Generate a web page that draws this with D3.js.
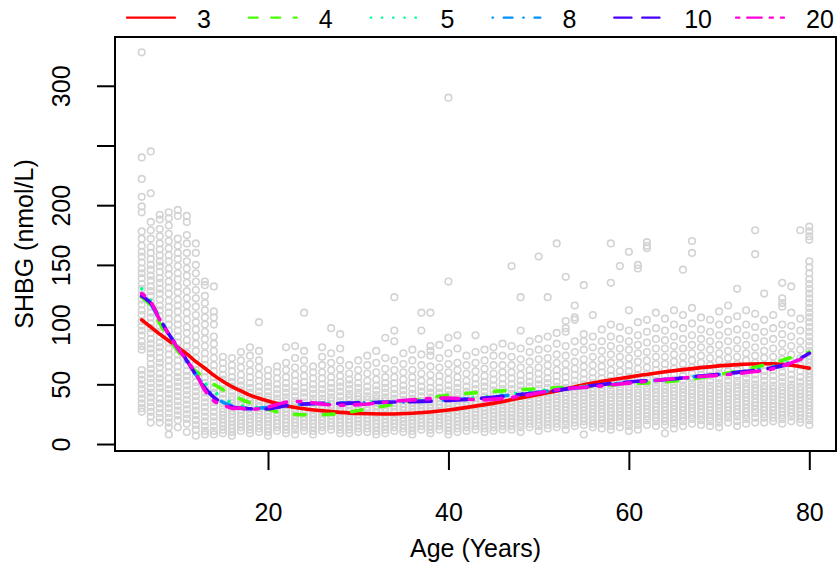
<!DOCTYPE html>
<html>
<head>
<meta charset="utf-8">
<script src="https://cdn.jsdelivr.net/npm/d3@7"></script>
<style>
  html, body { margin: 0; padding: 0; background: #fff; }
  svg { display: block; font-family: "Liberation Sans", Arial, Helvetica, sans-serif; }
</style>
</head>
<body>
<svg id="chart" width="838" height="564"></svg>
<script>
/* SHBG vs age, smoothing spline fits with different df */

// observed SHBG (nmol/L) per integer age
var ages = d3.range(6, 81);
var shbg = [
  [328,240,222,207,199,194,178,172,166,161,157,152,147,143,139,134,130,125,121,117,112,108,103,99,95,91,86,82,79,62,58,54,50,46,42,38,34,30,27],
  [245,210,186,179,172,165,160,155,150,146,141,137,132,128,124,119,115,110,106,101,97,93,88,84,80,76,72,67,63,59,55,51,47,43,39,35,31,27,23,18],
  [192,188,180,174,168,163,158,153,149,144,139,135,130,126,121,116,112,107,103,98,94,90,85,81,77,72,68,64,59,55,51,47,43,38,34,30,26,22,18],
  [194,189,183,176,170,164,158,153,147,142,136,131,126,120,115,110,105,100,95,90,85,80,75,70,65,60,55,50,46,42,38,34,30,26,22,18,14,8],
  [196,191,172,166,160,155,149,143,138,132,127,121,116,111,105,100,95,90,85,80,75,70,65,60,56,52,48,44,40,36,32,28,24,20,14],
  [191,186,175,168,160,153,147,141,135,128,122,116,110,104,98,93,87,82,76,71,66,61,57,53,49,45,41,37,33,29,25,21,17,10],
  [168,160,150,143,136,129,122,115,108,102,96,90,84,78,72,67,62,57,52,48,44,40,36,32,28,24,20,16,12,7],
  [136,133,124,118,112,106,100,94,88,82,76,71,66,61,56,51,47,43,39,35,31,27,23,19,15,11,8],
  [132,111,106,100,90,84,78,72,66,61,56,51,47,43,39,35,31,27,23,19,15,11,8],
  [73,68,63,58,54,50,46,42,38,34,30,27,24,21,18,15,12,9],
  [72,66,61,56,52,48,44,40,37,34,31,28,25,22,19,16,13,10,7],
  [77,70,64,58,53,49,45,41,38,35,32,29,26,23,20,17,14,11],
  [81,74,67,61,56,51,47,43,39,36,33,30,27,24,21,18,15,12,9],
  [102,78,70,64,58,53,48,44,40,37,34,31,28,25,22,19,16,13,10],
  [62,57,52,48,44,40,37,34,31,28,25,22,19,16,13,10,7],
  [65,60,55,50,46,42,38,35,32,29,26,23,20,17,14,11],
  [81,68,62,56,51,47,43,39,36,33,30,27,24,21,18,15,12,9],
  [82,72,64,58,53,48,44,40,36,33,30,27,24,21,18,15,12,8],
  [110,78,70,63,57,52,47,43,39,35,32,29,26,23,20,17,14,11],
  [65,60,55,50,46,42,38,35,32,29,26,23,20,17,14,11,8],
  [81,73,66,60,55,50,46,42,38,35,32,29,26,23,20,17,14,11],
  [97,76,68,62,56,51,47,43,39,36,33,30,27,24,21,18,15,12],
  [92,80,70,63,57,52,48,44,40,36,33,30,27,24,21,18,15,12,9],
  [66,59,54,50,46,42,39,36,33,30,27,24,21,18,15,12,9],
  [70,62,56,51,47,43,40,37,34,31,28,25,22,19,16,13,10],
  [74,66,59,53,48,44,40,37,34,31,28,25,22,19,16,13,10],
  [78,68,60,54,49,45,41,38,35,32,29,26,23,20,17,14,11,8],
  [89,72,63,56,51,47,43,39,36,33,30,27,24,21,18,15,12,9],
  [123,95,86,70,62,56,51,46,42,38,35,32,29,26,23,20,17,14,11],
  [76,67,60,54,49,45,41,37,34,31,28,25,22,19,16,13,10],
  [79,70,62,56,51,46,42,38,35,32,29,26,23,20,17,14,11,8],
  [110,95,75,66,59,53,48,44,40,36,33,30,27,24,21,18,15,12],
  [110,82,78,74,65,58,52,47,43,39,36,33,30,27,24,21,18,15,12,9],
  [83,72,64,57,52,47,43,39,36,33,30,27,24,21,18,15,12],
  [290,136,89,76,67,60,54,49,45,41,38,35,32,29,26,23,20,17,14,11,8],
  [91,80,68,62,56,51,47,43,40,37,34,31,28,25,22,19,16,13,10],
  [74,66,59,53,48,44,41,38,35,32,29,26,23,20,17,14,11],
  [91,77,68,61,55,50,46,42,39,36,33,30,27,24,21,18,15,12],
  [79,70,63,57,52,48,44,40,37,34,31,28,25,22,19,16,13,10],
  [81,74,66,59,54,49,45,41,38,35,32,29,26,23,20,17,14,11],
  [84,74,66,60,55,50,46,42,39,36,33,30,27,24,21,18,15,12],
  [149,82,73,66,60,55,50,46,42,39,36,33,30,27,24,21,18,15,12],
  [123,95,80,71,64,58,53,49,45,41,38,35,32,29,26,23,20,17,14,10],
  [86,77,69,62,57,52,48,44,41,38,35,32,29,26,23,20,17,14],
  [157,88,79,71,64,59,54,50,46,42,39,36,33,30,27,24,21,18,15,11],
  [123,90,80,72,66,60,55,51,47,43,40,37,34,31,28,25,22,19,16,13],
  [168,93,84,75,68,62,57,52,48,44,41,38,35,32,29,26,23,20,17,14],
  [140,103,97,94,82,74,67,61,56,51,47,43,40,37,34,31,28,25,22,19,16,12],
  [116,106,104,86,77,69,63,58,53,49,45,42,39,36,33,30,27,24,21,18,15],
  [133,92,86,79,71,65,59,54,50,46,43,40,37,34,31,28,25,22,19,16,8],
  [108,90,81,73,66,60,55,51,47,44,41,38,35,32,29,26,23,20,17,14],
  [96,86,78,71,65,60,55,51,47,44,41,38,35,32,29,26,23,20,17,13],
  [168,135,100,90,82,75,68,62,57,53,49,45,42,39,36,33,30,27,24,21,18,15,12],
  [149,98,88,80,73,67,61,56,52,48,45,42,39,36,33,30,27,24,21,18,14],
  [161,112,95,86,79,72,66,61,56,52,48,45,42,39,36,33,30,27,24,21,18,15,11],
  [150,147,102,91,83,76,69,63,58,54,50,46,43,40,37,34,31,28,25,22,19,16,12],
  [169,166,164,104,94,85,77,70,64,59,55,51,47,44,41,38,35,32,29,26,23,20,16],
  [110,97,88,80,73,67,62,57,53,49,46,43,40,37,34,31,28,25,22,19,15],
  [105,95,87,80,73,67,62,57,53,49,46,43,40,37,34,31,28,25,22,19,16,9],
  [112,100,90,82,75,69,63,58,54,50,47,44,41,38,35,32,29,26,23,20,17,13],
  [146,108,97,88,80,73,67,62,57,53,49,46,43,40,37,34,31,28,25,22,19,15],
  [170,160,114,101,91,83,76,70,64,59,55,51,48,45,42,39,36,33,30,27,24,21,17],
  [106,96,88,81,74,68,63,58,54,50,47,44,41,38,35,32,29,26,23,20,16],
  [104,94,86,79,72,66,61,57,53,49,46,43,40,37,34,31,28,25,22,19,15],
  [111,100,91,83,76,70,64,59,55,51,48,45,42,39,36,33,30,27,24,21,18,14],
  [116,104,94,86,78,72,66,61,57,53,49,46,43,40,37,34,31,28,25,22,18],
  [130,107,96,87,80,73,67,62,57,53,50,47,44,41,38,35,32,29,26,23,19,15],
  [112,100,91,83,76,70,64,59,55,51,48,45,42,39,36,33,30,27,24,21,17],
  [179,159,109,98,89,81,74,68,63,58,54,50,47,44,41,38,35,32,29,26,22,18],
  [126,104,94,86,78,72,66,61,57,53,49,46,43,40,37,34,31,28,25,22,18],
  [108,97,88,80,73,67,62,57,53,49,46,43,40,37,34,31,28,25,22,19],
  [135,122,118,115,100,92,84,77,71,65,60,56,52,48,45,42,39,36,33,30,27,24,21,17],
  [132,110,99,90,82,75,69,63,58,54,50,47,44,41,38,35,32,29,26,23,19],
  [179,105,95,86,79,72,66,61,56,52,48,45,42,39,36,33,30,27,24,21,18],
  [182,178,174,171,153,148,143,138,134,130,126,122,118,114,110,106,102,98,94,90,86,82,78,74,71,68,65,62,59,56,53,50,47,44,41,38,35,32,29,26,23,20,16]
];

// fitted curves, read at these ages
var fitAges = [6,7,8,9,10,11,12,13,14,15,16,17,18,20,22,24,26,28,30,33,36,40,44,48,52,56,60,64,68,72,76,78,80];
var fitDf3  = [104,98,92,86.5,81,75.5,69,63.5,57.5,52.5,48,44.5,41,36,32,29.5,27.8,26.5,25.6,25.2,25.8,28.5,33,38.5,44.5,51,56,60.5,64,66.5,67.2,66,63.5];
var fitDf4  = [123,116,101,89,78,68,61,55,50,45.5,41.5,37.5,34.5,29,25.5,24.5,24.5,25.5,28,32,36,41,43.5,45.5,47,48.5,50.5,52,55.5,61,68,72.5,77];
var fitDf5  = [130,120,106,93,81,70,60,51,44,38.5,34.5,32,31,31,32.5,33.5,34,34.5,35,35.5,36,37.5,39.5,43,46,49,51.5,53.5,56,60,65,69,75];
var fitDf8  = [124,117,104,92,80,69,58,48,40,35,32,30.5,30,30.5,32.5,33.5,34,34,34.5,35,35.5,37,38.5,42,45,48.5,51.5,54,57,60,64,68,75];
var fitDf10 = [124,118,105,92,81,70,58,47,39,34,31,30,29.5,29.5,32,33.5,34,34,34.5,35,35.5,36.5,38.5,41.5,45,49,52,54,57,60,64,68,76];
var fitDf20 = [126,119,104,92,80,70,59,45,36,33,30,30,29,31,35,35.5,33.5,32.5,33,35,37,38.5,37,40,45.5,48,51,54,56.5,59,63,68,74];

var legendLabels = ['3', '4', '5', '8', '10', '20'];
var legendColors = ['#FF0000', '#49FF00', '#00FF92', '#0092FF', '#4900FF', '#FF00DB'];
var xTicks = [20, 40, 60, 80];
var yTicks = [0, 50, 100, 150, 200, 250, 300];
var yTickLabels = ['0', '50', '100', '150', '200', '', '300'];

// R lty patterns (units of line width)
var LTY = [[], [4, 4], [1, 3], [1, 3, 4, 3], [7, 3], [2, 2, 6, 2]];
function dash(p, u, w) {
  if (!p.length) return null;
  return p.map(function (d, i) { return i % 2 === 0 ? Math.max(d * u - w, 0.01) : d * u + w; }).join(',');
}

var svg = d3.select('#chart');
var L = 115, R = 836, T = 37, B = 451, FS = 25;

var points = [];
ages.forEach(function (a, i) { shbg[i].forEach(function (v) { points.push({ a: a, v: v }); }); });

var ax = d3.extent(points, function (d) { return d.a; });
var ay = d3.extent(points, function (d) { return d.v; });
var px = (ax[1] - ax[0]) * 0.04, py = (ay[1] - ay[0]) * 0.04;
var x = d3.scaleLinear().domain([ax[0] - px, ax[1] + px]).range([L, R]);
var y = d3.scaleLinear().domain([ay[0] - py, ay[1] + py]).range([B, T]);

// scatter
svg.append('g').selectAll('circle').data(points).enter().append('circle')
  .attr('cx', function (d) { return x(d.a); })
  .attr('cy', function (d) { return y(d.v); })
  .attr('r', 3.3)
  .attr('fill', 'none')
  .attr('stroke', '#d3d3d3')
  .attr('stroke-width', 1.6);

// fits
var fits = [fitDf3, fitDf4, fitDf5, fitDf8, fitDf10, fitDf20];
var line = d3.line().x(function (d) { return x(d[0]); }).y(function (d) { return y(d[1]); }).curve(d3.curveCatmullRom);
var LW = 3.6;
fits.forEach(function (f, k) {
  svg.append('path')
    .attr('d', line(fitAges.map(function (a, i) { return [a, f[i]]; })))
    .attr('fill', 'none')
    .attr('stroke', legendColors[k])
    .attr('stroke-width', LW)
    .attr('stroke-linecap', 'round')
    .attr('stroke-dasharray', dash(LTY[k], LW, LW));
});

// box
svg.append('rect').attr('x', L).attr('y', T).attr('width', R - L).attr('height', B - T)
  .attr('fill', 'none').attr('stroke', '#000').attr('stroke-width', 2);

// axes
var gx = svg.append('g').attr('transform', 'translate(0,' + B + ')')
  .call(d3.axisBottom(x).tickValues(xTicks).tickSize(19).tickPadding(0).tickSizeOuter(0));
var gy = svg.append('g').attr('transform', 'translate(' + L + ',0)')
  .call(d3.axisLeft(y).tickValues(yTicks).tickSize(18).tickSizeOuter(0)
    .tickFormat(function (d, i) { return yTickLabels[i]; }));
[gx, gy].forEach(function (g) {
  g.select('.domain').remove();
  g.selectAll('.tick line').attr('stroke', '#000').attr('stroke-width', 2);
  g.selectAll('.tick text').attr('fill', '#000').attr('font-size', FS).attr('font-family', null);
});
gx.selectAll('.tick text').attr('y', 0).attr('dy', null).attr('transform', 'translate(0,70)');
gy.selectAll('.tick text').attr('x', null).attr('dy', null)
  .attr('text-anchor', 'middle')
  .attr('transform', 'translate(' + (61 - L + 9) + ',0) rotate(-90)');

svg.append('text').attr('x', (L + R) / 2).attr('y', 557).attr('text-anchor', 'middle')
  .attr('font-size', FS).text('Age (Years)');
svg.append('text').attr('transform', 'translate(33,' + ((T + B) / 2) + ') rotate(-90)')
  .attr('text-anchor', 'middle').attr('font-size', FS).text('SHBG (nmol/L)');

// legend across the top
var lg = svg.append('g');
legendLabels.forEach(function (lab, k) {
  var x0 = 127 + k * 121.8;
  lg.append('line').attr('x1', x0).attr('x2', x0 + 48).attr('y1', 17.7).attr('y2', 17.7)
    .attr('stroke', legendColors[k]).attr('stroke-width', 2.2).attr('stroke-linecap', 'round')
    .attr('stroke-dasharray', dash(LTY[k], 2.8, 2.2));
  lg.append('text').attr('x', x0 + 70).attr('y', 27.5).attr('font-size', FS).text(lab);
});
</script>
</body>
</html>
